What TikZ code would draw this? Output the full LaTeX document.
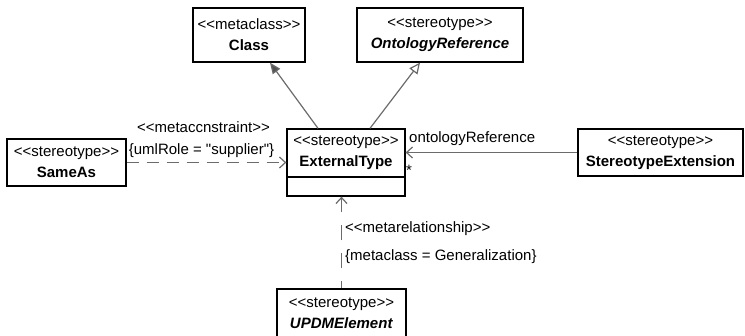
\documentclass[tikz,border=0pt]{standalone}
\usepackage{fontspec}
\setmainfont{Liberation Sans}[Ligatures=TeXOff]
\usetikzlibrary{arrows.meta,positioning}
\definecolor{linegray}{gray}{0.42}
\definecolor{tipgray}{gray}{0.33}
\begin{document}
\begin{tikzpicture}[x=1pt,y=-1pt,
    font=\fontsize{15}{21}\selectfont,
    umlbox/.style={draw,line width=1.3pt,align=center,inner sep=0pt},
    link/.style={draw=linegray,line width=1.2pt},
    openvee/.style={-{Straight Barb[length=6pt,width=11pt]}}]
    \useasboundingbox (0,0) rectangle (745,335);
    \clip (0,0) rectangle (745,335);
    % classes
    \node[umlbox,minimum width=112,minimum height=54] (class) at (249,35)
        {<<metaclass>>\\\textbf{Class}};
    \node[umlbox,minimum width=166,minimum height=54] (ontoref) at (440,35)
        {<<stereotype>>\\\textbf{\textit{OntologyReference}}};
    \node[umlbox,minimum width=119,minimum height=47] (sameas) at (66.5,162.5)
        {<<stereotype>>\\\textbf{SameAs}};
    \node[umlbox,minimum width=118,minimum height=48] (exttype) at (346,153)
        {<<stereotype>>\\\textbf{ExternalType}};
    \node[umlbox,minimum width=118,minimum height=19,below=-1.3pt of exttype] (exttypeattr) {};
    \node[umlbox,minimum width=165,minimum height=47] (stext) at (660.5,152.5)
        {<<stereotype>>\\\textbf{StereotypeExtension}};
    \node[umlbox,minimum width=129,minimum height=48] (updm) at (341.5,313)
        {<<stereotype>>\\\textbf{\textit{UPDMElement}}};
    % connectors
    \draw[link,-{Triangle[length=11pt,width=9pt,fill=tipgray]}]
        ([xshift=-28]exttype.north) -- ([xshift=21]class.south);
    \draw[link,-{Triangle[open,length=11pt,width=10pt]}]
        ([xshift=24]exttype.north) -- ([xshift=-20]ontoref.south);
    \draw[link,openvee,dash pattern=on 12pt off 8pt]
        (sameas.east) -- (sameas.east -| exttype.west);
    \draw[link,openvee] (stext.west) -- (stext.west -| exttype.east);
    \draw[link,openvee,dash pattern=on 15pt off 13pt,dash phase=8pt]
        (updm.north) -- (updm.north |- exttypeattr.south);
    % labels
    \node (metacon) at (203.5,127) {<<metaccnstraint>>};
    \node (umlrole) at (201.5,151) {\{umlRole = "supplier"\}};
    \node[anchor=west,inner sep=0pt] (ontolabel) at (409,139) {ontologyReference};
    \node (mult) at (409,170) {*};
    \node[anchor=west,inner sep=0pt] (metarel) at (345,229) {<<metarelationship>>};
    \node[anchor=west,inner sep=0pt] (metagen) at (345,257) {\{metaclass = Generalization\}};
\end{tikzpicture}
\end{document}
